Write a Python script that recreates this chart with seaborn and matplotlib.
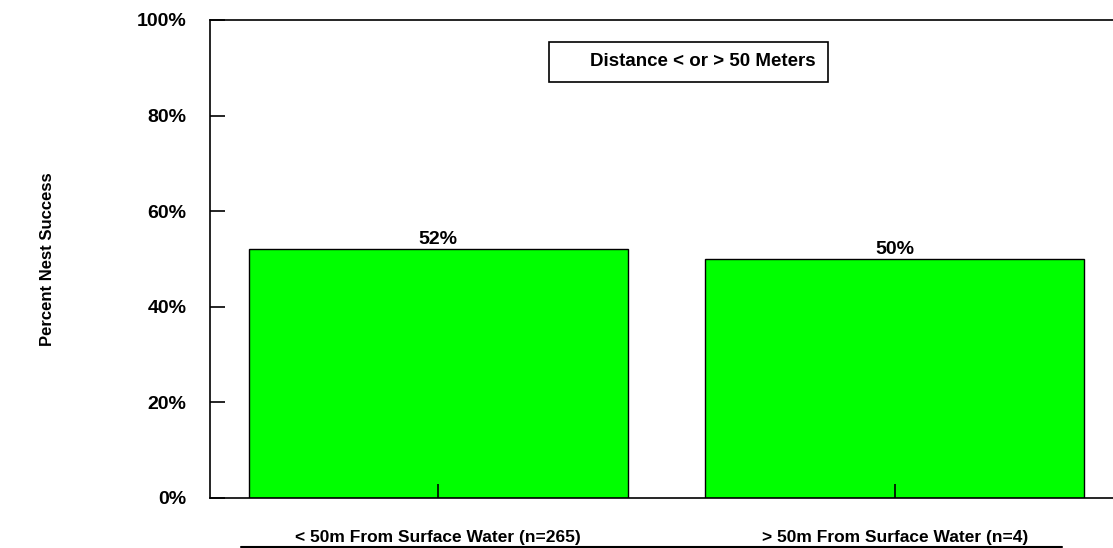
import seaborn as sns
import matplotlib.pyplot as plt
from matplotlib.lines import Line2D
from matplotlib.patches import Rectangle

categories = ["< 50m From Surface Water (n=265)", "> 50m From Surface Water (n=4)"]
success = [52, 50]
yticks = [0, 20, 40, 60, 80, 100]
ylabels = ["0%", "20%", "40%", "60%", "80%", "100%"]
bar_labels = ["52%", "50%"]

sns.set_style("white")
plt.rcParams['font.family'] = ['Liberation Sans', 'DejaVu Sans']
plt.rcParams['font.weight'] = 'bold'
plt.rcParams['text.color'] = 'black'
plt.rcParams['axes.labelcolor'] = 'black'
plt.rcParams['xtick.color'] = 'black'
plt.rcParams['ytick.color'] = 'black'

fig = plt.figure(figsize=(11.13, 5.48), dpi=100)
W, H = 1113, 548
ax = fig.add_axes([210 / W, 50 / H, 913 / W, 478 / H])

sns.barplot(x=categories, y=success, color="#00ff00", saturation=1,
            edgecolor="black", linewidth=1, width=0.83, ax=ax)
ax.set_axisbelow(False)

ax.set_xlim(-0.5, 1.5)
ax.set_ylim(0, 100)
ax.set_yticks(yticks)
ax.set_yticklabels(ylabels, fontsize=14, fontweight='bold')
ax.tick_params(axis='y', direction='in', length=11, width=1.2, pad=17, left=True)
ax.tick_params(axis='x', direction='in', length=10, width=1.2, pad=23,
               bottom=True, labelsize=12.5)
for lab in ax.get_xticklabels():
    lab.set_fontweight('bold')

for s in ['left', 'top', 'bottom']:
    ax.spines[s].set_visible(True)
    ax.spines[s].set_color('black')
    ax.spines[s].set_linewidth(1.2)
ax.spines['right'].set_visible(False)

ax.set_ylabel("Percent Nest Success", fontsize=12, fontweight='bold')
ax.yaxis.set_label_coords(-0.17, 0.5)
ax.set_xlabel("")

ax.bar_label(ax.containers[0], labels=bar_labels, padding=1, fontsize=14, fontweight='bold')

# title box
fig.patches.append(Rectangle((549 / W, 1 - 82 / H), 279 / W, 40 / H, transform=fig.transFigure,
                             fill=False, edgecolor='black', linewidth=1.2))
fig.text(703 / W, 1 - 62 / H, "Distance < or > 50 Meters", ha='center', va='center',
         fontsize=13.5, fontweight='bold')

# line under category labels
fig.lines.append(Line2D([241 / W, 1062 / W], [1 - 547 / H, 1 - 547 / H],
                        transform=fig.transFigure, color='black', linewidth=1.5))

fig.savefig("out.png", dpi=100)
